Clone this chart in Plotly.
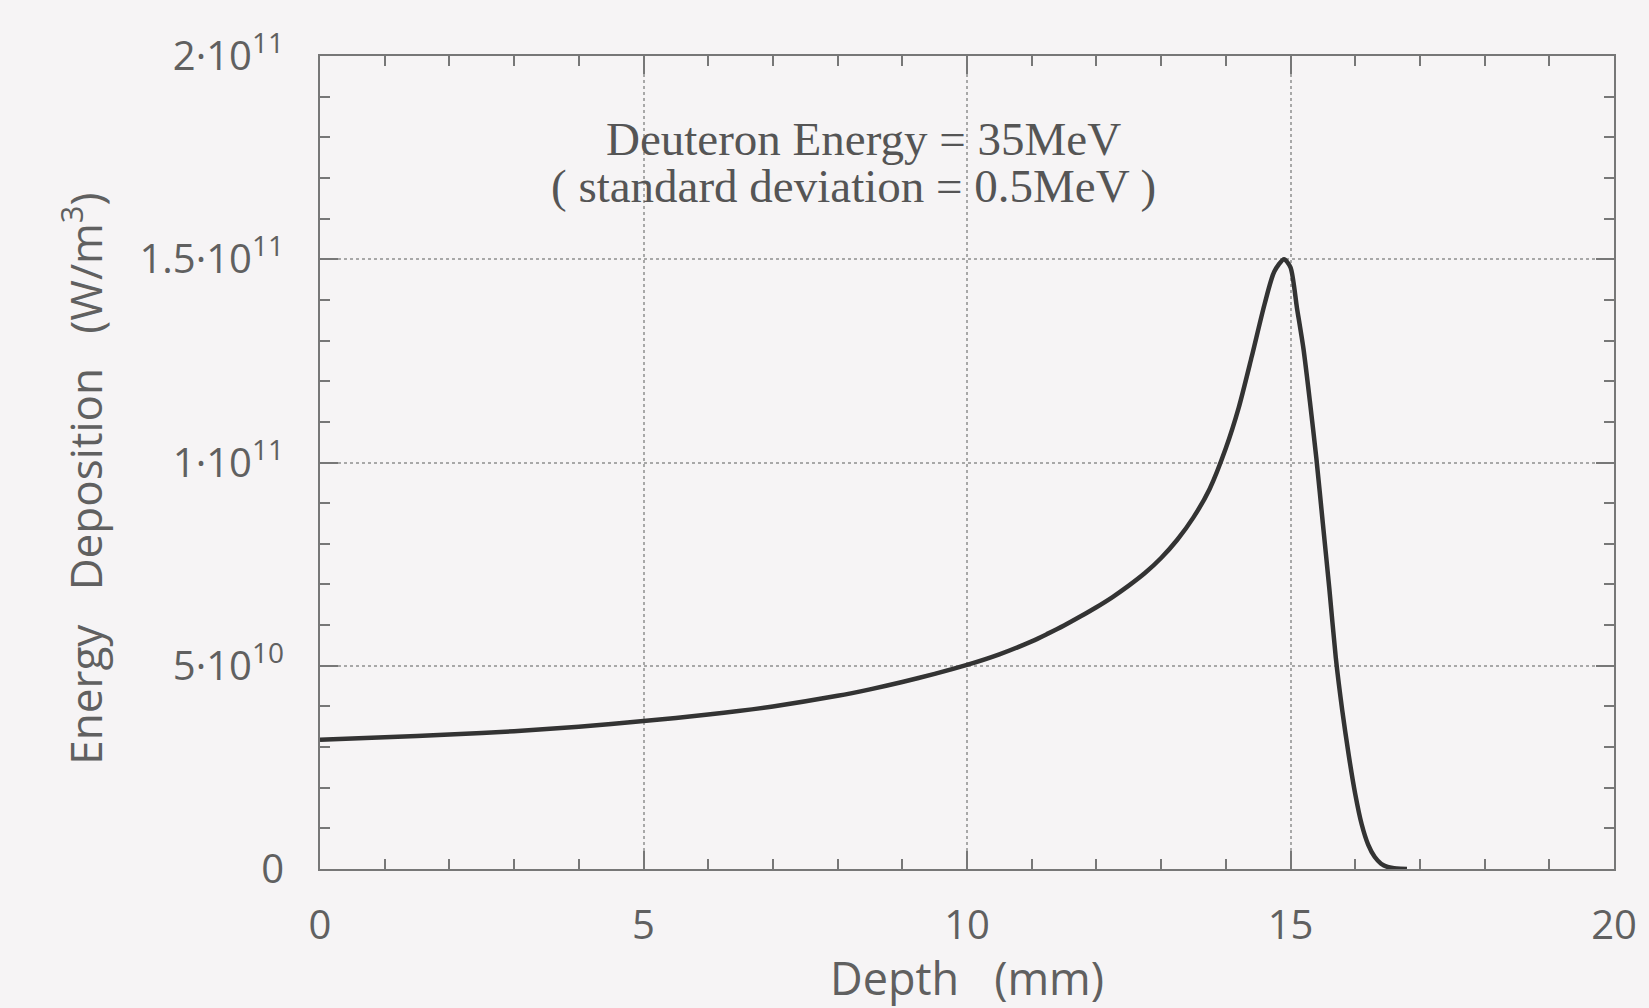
import plotly.graph_objects as go

# Data
depth_mm = [0, 1, 2, 3, 4, 5, 6, 7, 8, 8.5, 9, 9.5, 10, 10.5, 11, 11.25, 11.5, 11.75, 12,
            12.25, 12.5, 12.75, 13, 13.25, 13.5, 13.75, 14.0, 14.2, 14.4, 14.6, 14.75, 14.9,
            15.0, 15.1, 15.2, 15.3, 15.4, 15.5, 15.6, 15.7, 15.8, 15.9, 16.0, 16.1, 16.2,
            16.3, 16.4, 16.5, 16.6, 16.7, 16.8]
energy_1e10 = [3.18, 3.24, 3.31, 3.39, 3.50, 3.64, 3.80, 4.00, 4.26, 4.42, 4.60, 4.80, 5.02,
               5.28, 5.60, 5.79, 5.99, 6.21, 6.44, 6.69, 6.97, 7.28, 7.65, 8.1, 8.65, 9.35,
               10.35, 11.35, 12.6, 13.9, 14.7, 15.0, 14.8, 13.8, 12.8, 11.5, 10.1, 8.5, 6.9,
               5.2, 3.9, 2.8, 1.85, 1.1, 0.6, 0.3, 0.13, 0.05, 0.02, 0.006, 0.0]
energy = [v * 1e10 for v in energy_1e10]

x_tickvals = [0, 5, 10, 15, 20]
y_tickvals = [0, 5e10, 1e11, 1.5e11, 2e11]
y_ticktext = ["0", "5·10<sup>10</sup>", "1·10<sup>11</sup>", "1.5·10<sup>11</sup>", "2·10<sup>11</sup>"]

annot_line1 = "Deuteron Energy = 35MeV"
annot_line2 = "( standard deviation = 0.5MeV )"
x_title = "Depth\u00a0\u00a0\u00a0(mm)"
y_title = "Energy\u00a0\u00a0\u00a0Deposition\u00a0\u00a0\u00a0(W/m<sup>3</sup>)"

BG = "#f6f4f5"
AX = "#777777"
TXT = "#606060"
SANS = "'Open Sans', Lato, sans-serif"
SERIF = "'Liberation Serif', 'DejaVu Serif', serif"

fig = go.Figure()
fig.add_trace(go.Scatter(
    x=depth_mm, y=energy, mode="lines",
    line=dict(color="#333333", width=4.5, shape="spline", smoothing=0.7),
    showlegend=False, hoverinfo="skip",
))

axis_common = dict(
    showline=True, linecolor=AX, linewidth=2, mirror="allticks",
    ticks="inside", ticklen=18, tickwidth=1.5, tickcolor=AX,
    showgrid=True, gridcolor="#a8a8a8", griddash="dot", gridwidth=1.5,
    zeroline=False,
    tickfont=dict(family=SANS, size=40, color=TXT),
)

fig.update_xaxes(
    range=[0, 20], tickmode="array", tickvals=x_tickvals,
    ticktext=[str(v) for v in x_tickvals], ticklabelstandoff=20,
    minor=dict(dtick=1, ticks="inside", ticklen=10, tickwidth=1.5, tickcolor=AX, showgrid=False),
    **axis_common,
)
fig.update_yaxes(
    range=[0, 2e11], tickmode="array", tickvals=y_tickvals, ticktext=y_ticktext,
    ticklabelstandoff=26,
    minor=dict(dtick=1e10, ticks="inside", ticklen=10, tickwidth=1.5, tickcolor=AX, showgrid=False),
    **axis_common,
)

annotations = [
    dict(x=8.4, y=1.795e11, xref="x", yref="y", text=annot_line1, showarrow=False,
         font=dict(family=SERIF, size=47, color="#555555"), xanchor="center", yanchor="middle"),
    dict(x=8.25, y=1.68e11, xref="x", yref="y", text=annot_line2, showarrow=False,
         font=dict(family=SERIF, size=47, color="#555555"), xanchor="center", yanchor="middle"),
    dict(x=0.5, y=-0.134, xref="paper", yref="paper", text=x_title, showarrow=False,
         font=dict(family=SANS, size=45, color=TXT), xanchor="center", yanchor="middle"),
    dict(x=-0.184, y=0.48, xref="paper", yref="paper", text=y_title, showarrow=False,
         textangle=-90, font=dict(family=SANS, size=44, color=TXT), xanchor="center", yanchor="middle"),
]

fig.update_layout(
    width=1649, height=1008,
    margin=dict(l=320, r=31, t=56, b=139),
    paper_bgcolor=BG, plot_bgcolor=BG,
    annotations=annotations,
)

fig.write_html("out.html")
